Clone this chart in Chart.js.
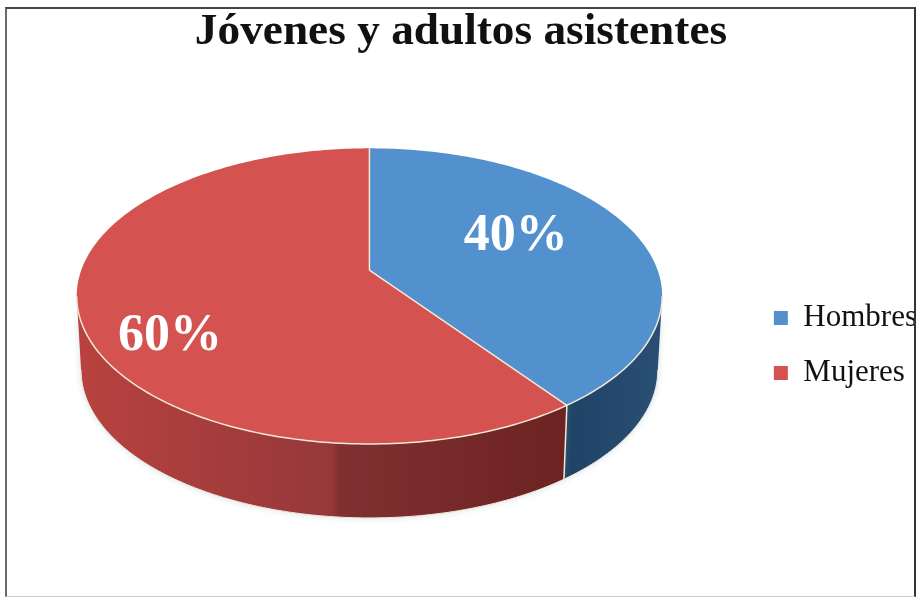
<!DOCTYPE html>
<html>
<head>
<meta charset="utf-8">
<script src="https://cdn.jsdelivr.net/npm/chart.js@4"></script>
<style>
  html, body { margin: 0; padding: 0; background: #fff; overflow: hidden; }
  #frame {
    position: absolute; left: 5px; top: 7px; width: 911px; height: 590px;
    box-sizing: border-box; overflow: hidden; background: #fff;
    border-left: 2px solid #6a6a6a; border-top: 2px solid #444;
    border-right: 2px solid #333; border-bottom: 1px solid #ccc;
  }
  #chart { position: absolute; left: -18px; top: -1px; }
</style>
</head>
<body>
<div id="frame"><canvas id="chart" width="952" height="589"></canvas></div>
<script>
const chartTitle = "Jóvenes y adultos asistentes";
const categories = ["Hombres", "Mujeres"];
const shares = [40, 60];
const topColours = ["#5291cd", "#d4524f"];

// side wall colours, left to right across the slice
const wallColours = [
  ["#1f4365", "#2a4f75"],
  ["#b8423f", "#96383a", "#803030", "#6c2322"],
];
const wallStops = [
  [0, 1],
  [0, 0.52, 0.535, 1],
];
const labelNudge = [[0, -10], [0, 34]];

// perspective of the disc, relative to the pie radius
const tilt = { a: 1.407, b: 0.6995, k: 0.1757, depth: 0.361, shrink: 0.985 };

function project(arc, phi, rho, drop) {
  const u = rho * Math.sin(phi);
  const v = -rho * Math.cos(phi);
  const w = 1 - tilt.k * v;
  const r = arc.outerRadius;
  const s = drop ? tilt.shrink : 1;
  return {
    x: arc.x + (s * tilt.a * r * u) / w,
    y: arc.y + (tilt.b * r * v) / w + (drop ? tilt.depth * r : 0),
  };
}

function samples(from, to) {
  const n = Math.max(2, Math.ceil((to - from) * 60));
  return Array.from({ length: n + 1 }, (_, i) => from + ((to - from) * i) / n);
}

const pie3d = {
  id: "pie3d",
  afterLayout(chart) {
    // legend sits lower than the middle of the chart area
    chart.legend.top += 104;
    chart.legend.bottom += 104;
    chart.titleBlock.left += 3;
    chart.titleBlock.right += 3;
  },
  beforeDatasetsDraw(chart) {
    const ctx = chart.ctx;
    const arcs = chart.getDatasetMeta(0).data;
    const rim = Math.acos(-tilt.k);
    const angles = arcs.map((arc) => [arc.startAngle + Math.PI / 2, arc.endAngle + Math.PI / 2]);

    ctx.save();

    // walls
    ctx.shadowColor = "rgba(120, 170, 190, 0.35)";
    ctx.shadowBlur = 7;
    arcs.forEach((arc, i) => {
      const from = Math.max(angles[i][0], rim);
      const to = Math.min(angles[i][1], 2 * Math.PI - rim);
      if (to <= from) return;
      const upper = samples(from, to).map((phi) => project(arc, phi, 1, false));
      const lower = samples(from, to).map((phi) => project(arc, phi, 1, true)).reverse();
      const xs = upper.map((p) => p.x);
      const grad = ctx.createLinearGradient(Math.min(...xs), 0, Math.max(...xs), 0);
      wallColours[i].forEach((c, j) => grad.addColorStop(wallStops[i][j], c));
      ctx.beginPath();
      upper.concat(lower).forEach((p) => ctx.lineTo(p.x, p.y));
      ctx.closePath();
      ctx.fillStyle = grad;
      ctx.fill();
    });
    ctx.shadowColor = "transparent";
    ctx.shadowBlur = 0;

    // top faces
    arcs.forEach((arc, i) => {
      const apex = project(arc, 0, 0, false);
      ctx.beginPath();
      ctx.moveTo(apex.x, apex.y);
      samples(angles[i][0], angles[i][1]).forEach((phi) => {
        const p = project(arc, phi, 1, false);
        ctx.lineTo(p.x, p.y);
      });
      ctx.closePath();
      ctx.fillStyle = arc.options.backgroundColor;
      ctx.fill();
    });

    // light edges
    ctx.strokeStyle = "#f2e8d6";
    ctx.lineWidth = 1.5;
    ctx.beginPath();
    samples(rim, 2 * Math.PI - rim).forEach((phi) => {
      const p = project(arcs[0], phi, 1, false);
      ctx.lineTo(p.x, p.y);
    });
    ctx.stroke();
    arcs.forEach((arc, i) => {
      const apex = project(arc, 0, 0, false);
      const edge = project(arc, angles[i][1], 1, false);
      const foot = project(arc, angles[i][1], 1, true);
      ctx.beginPath();
      ctx.moveTo(apex.x, apex.y);
      ctx.lineTo(edge.x, edge.y);
      if (i === 0) ctx.lineTo(foot.x, foot.y);
      ctx.stroke();
    });
    ctx.lineWidth = 1;
    ctx.beginPath();
    samples(rim, 2 * Math.PI - rim).forEach((phi) => {
      const p = project(arcs[0], phi, 1, true);
      ctx.lineTo(p.x, p.y);
    });
    ctx.stroke();

    // percentage labels
    ctx.font = "bold 52px 'Liberation Serif'";
    ctx.fillStyle = "#fff";
    ctx.textAlign = "center";
    ctx.textBaseline = "middle";
    const total = shares.reduce((a, b) => a + b, 0);
    arcs.forEach((arc, i) => {
      const mid = (angles[i][0] + angles[i][1]) / 2;
      const p = project(arc, mid, i === 0 ? 0.55 : 0.7, false);
      ctx.fillText(Math.round((shares[i] / total) * 100) + "%", p.x + labelNudge[i][0], p.y + labelNudge[i][1]);
    });

    ctx.restore();
    return false;
  },
};

new Chart(document.getElementById("chart"), {
  type: "pie",
  data: {
    labels: categories,
    datasets: [{ data: shares, backgroundColor: topColours, borderWidth: 0 }],
  },
  plugins: [pie3d],
  options: {
    responsive: false,
    animation: false,
    layout: { padding: { top: 0, bottom: 122, right: 14, left: 0 } },
    plugins: {
      tooltip: { enabled: false },
      title: {
        display: true,
        text: chartTitle,
        color: "#111",
        padding: { top: -3, bottom: 6 },
        font: { family: "'Liberation Serif'", size: 45.3, weight: "bold" },
      },
      legend: {
        position: "right",
        labels: {
          boxWidth: 14,
          boxHeight: 14,
          padding: 24,
          color: "#111",
          font: { family: "'Liberation Serif'", size: 31 },
        },
      },
    },
  },
});
</script>
</body>
</html>
